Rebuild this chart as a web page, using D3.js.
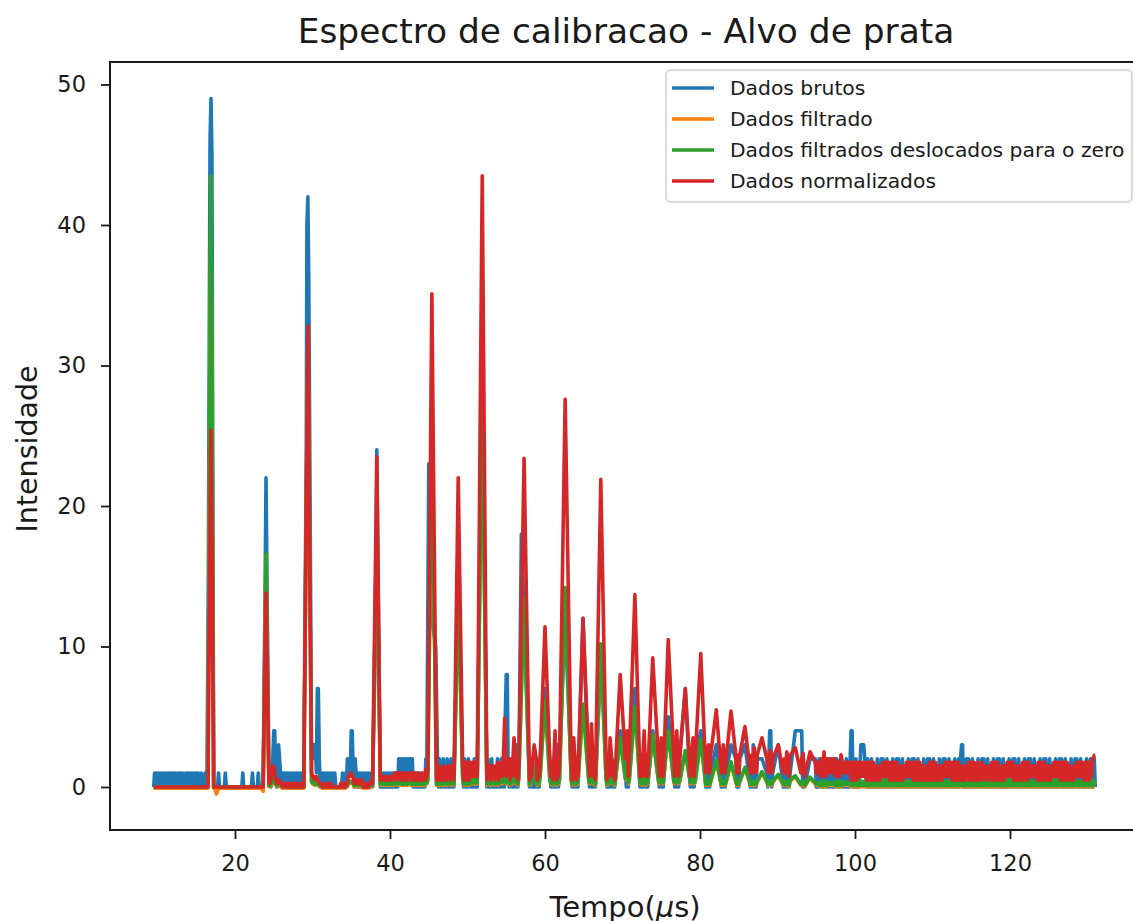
<!DOCTYPE html>
<html>
<head>
<meta charset="utf-8">
<script src="https://cdnjs.cloudflare.com/ajax/libs/d3/7.8.5/d3.min.js"></script>
<style>
  body { margin: 0; background: #fff; }
  svg text { font-family: "DejaVu Sans", sans-serif; fill: #1a1a1a; }
</style>
</head>
<body>
<div id="chart"></div>
<script>
// grade de amostragem do espectro (µs)
var tempoInicio = 9.5,
    passo = 0.125;

// ruido de fundo: um digito por amostra, grupos de 1 µs, linhas de 10 µs (9.5-19.375, 19.5-29.375, ...)
var ruidoBruto = [
  "01010101 01010101 01010101 01011010 01010101 01010110 01000100 00111100 00010000 00100000",
  "00000000 00001000 00000010 00001000 00000001 10124410 13210101 01010101 01010101 01010101",
  "11122333 17720101 01010101 01010000 00010010 21214410 21010101 01010101 01010101 01010101",
  "01010101 01010212 12121212 12120101 01010101 02130101 01030202 01020102 01020102 01020101",
  "02010201 01020102 01020102 02010201 01020102 02058810 02010203 01020102 02010201 01020102",
  "01020102 02010201 03020102 02010201 01020102 02010201 01030102 02010201 01020102 02010201",
  "02010201 01020102 03010201 01020102 02010201 01020102 02030102 01020102 02010201 01020102",
  "01020102 02010201 01020102 03010201 01020102 02010201 01020102 02030102 01020102 01024401",
  "01020102 02010201 01020102 04444401 02010201 01020102 02010201 01020102 02010201 01020102",
  "44010201 01333321 02010201 01020102 02010201 01020102 02010201 01020102 02010201 01020102",
  "02010201 01020102 02010201 01020102 02330102 02010201 01020102 02010201 01020102 02010201",
  "01020102 02010201 01020102 02010201 01020102 02010201 01020102 02010201 01020102 02010201",
  "0102010201020"
];
// filtrado (digito x 0.1)
var ruidoFiltrado = [
  "00000000 00000000 00000000 00000000 00000000 00000000 00000000 00000000 00000000 00000000",
  "00000000 00000000 00000000 00000000 00000001 12366321 21211010 10101010 10101010 10101212",
  "55443322 32211100 01010101 00000000 01010101 13344331 12121212 01010101 12121212 23232323",
  "23232323 24342434 24242424 34242424 24232423 25352535 25262526 25262526 36263626 26272627",
  "27272727 37373737 27372737 26362636 26372637 38483848 27372737 27382738 27372737 27382738",
  "26362636 25352535 26362636 25352535 26362636 25352535 26362636 25352535 26362636 25352535",
  "26362636 25352535 26362636 25352535 25252525 25352535 25252525 24342434 25252525 24342434",
  "15151515 24242424 15151515 24242424 15151515 24242424 14141414 24242424 15151515 24242424",
  "14141414 24242424 15151515 24242424 14141414 23232323 14141414 23232323 14141414 23232323",
  "15151515 14141414 15151515 14141414 15151515 14141414 15151515 14141414 15151515 14141414",
  "14141414 15151515 14141414 15151515 14141414 15151515 14141414 15151515 14141414 15151515",
  "15151515 14141414 15151515 14141414 15151515 14141414 15151515 14141414 15151515 14141414",
  "1514151415145"
];
// normalizado (digito x 0.25)
var ruidoNormalizado = [
  "00000000 00000000 00000000 00000000 00000000 00000000 00000000 00000000 00000000 00000000",
  "00000000 00000000 00000000 00000000 00000001 12466421 21211010 10101010 10101010 10101212",
  "66443322 32211100 01010101 00000000 01010101 13344331 12121212 01010101 12121212 23232323",
  "23232323 24342434 24242424 34242424 24232423 25352535 25262526 25262526 36263626 26272627",
  "27272727 37373737 27372737 26362636 26372637 38483848 27372737 27382738 27372737 27382738",
  "28382838 27372737 28382838 27372737 28382838 27372737 28382838 27372737 28382838 27372737",
  "28382838 39393939 28382838 39393939 28382838 38383838 29392939 38383838 29392939 38383838",
  "39393939 49494949 39393939 48484848 39393939 49494949 38383838 49494949 39393939 48484848",
  "38383838 48484848 39393939 48484848 38383838 47474747 38383838 48484848 37373737 47474747",
  "27272727 37373737 27272727 26262626 37373737 27272727 26262626 37373737 27272727 26262626",
  "27272727 26262626 37373737 27272727 26262626 37272727 26272627 36263626 27272727 26262626",
  "37373737 26262626 27272727 36363636 27272727 26262626 37373737 27272727 26262626 37373737",
  "2727272738899"
];

// picos do espectro
var picoTempo = [16.9, 24.0, 29.4, 38.3, 45.4, 48.8, 51.9, 57.3, 60.0, 62.6, 64.9, 67.2, 69.7,
                 71.6, 73.9, 75.9, 78.1, 80.1, 82.1, 84.0, 85.8, 88.0, 90.1, 92.3, 94.2];
var picoLargura = [0.3, 0.35, 0.4, 0.45, 0.5, 0.5, 0.55, 0.6, 0.6, 0.65, 0.6, 0.65, 0.6,
                   0.65, 0.6, 0.65, 0.6, 0.65, 0.6, 0.6, 0.6, 0.6, 0.6, 0.6, 0.6];
var picoBruto = [49, 22, 42, 24, 12, 14, 29, 12, 7, 12, 12, 9, 4,
                 7, 4, 5, 7, 4, 3, 3, 3, 2, 3, 4, 2];
var picoFiltrado = [43.5, 16.6, 32.0, 19.5, 25.0, 14.5, 28.0, 13.4, 6.2, 14.2, 5.9, 10.2, 3.5,
                    5.7, 3.7, 4.0, 2.6, 3.4, 1.9, 1.8, 1.4, 1.1, 0.9, 0.8, 0.7];
var picoNormalizado = [25.4, 13.8, 32.8, 23.5, 35.1, 22.0, 43.5, 23.4, 11.4, 27.6, 12.0, 21.9, 8.0,
                       13.7, 9.2, 10.5, 7.0, 9.5, 5.5, 5.4, 4.3, 3.5, 3.0, 2.8, 2.5];

// picos secundarios [tempo, intensidade]
var extraBruto = [[16.55, 14], [16.78, 46], [17.02, 45], [23.88, 14], [24.12, 15],
                  [29.2, 24], [29.28, 40], [29.52, 36], [38.18, 12], [38.42, 17],
                  [45.0, 23], [45.9, 10], [56.95, 18]];
var extraFiltrado = [[54.8, 2.8], [56.0, 1.8], [58.6, 1.5], [61.3, 1.9], [63.7, 1.7], [66.0, 2.0],
                     [68.4, 1.5], [70.6, 1.7], [72.8, 1.6], [75.0, 1.4], [77.0, 1.5], [79.1, 1.3]];
var extraNormalizado = [[54.8, 4.9], [56.0, 3.5], [58.6, 3.0], [61.3, 4.0], [63.7, 3.5], [66.0, 4.5],
                        [68.4, 3.5], [70.6, 4.0], [72.8, 4.0], [75.0, 3.5], [77.0, 4.0], [79.1, 3.5],
                        [81.1, 3.0], [83.0, 3.0], [87.0, 2.8], [89.1, 2.6], [91.2, 2.5], [93.3, 2.4],
                        [96.0, 2.5], [98.2, 2.3]];
// vales negativos do filtrado
var valeFiltrado = [[17.6, -0.42], [23.65, -0.22]];
var deslocamento = 0.08;

var legendas = ["Dados brutos", "Dados filtrado", "Dados filtrados deslocados para o zero", "Dados normalizados"];
var cores = ["#1f77b4", "#ff7f0e", "#2ca02c", "#d62728"];
var ticksX = [20, 40, 60, 80, 100, 120];
var ticksY = [0, 10, 20, 30, 40, 50];

// junta ruido de fundo e picos numa lista de pontos
function montaSerie(ruido, escala, picos) {
  var digitos = ruido.join("").replace(/ /g, "");
  var pts = [];
  for (var i = 0; i < digitos.length; i++) {
    var t = tempoInicio + i * passo;
    var dentro = picos.some(function(p) { return Math.abs(t - p[0]) < p[2]; });
    if (!dentro) pts.push([t, +digitos[i] * escala]);
  }
  picos.forEach(function(p) { pts.push([p[0], p[1]]); });
  pts.sort(function(a, b) { return a[0] - b[0]; });
  return pts;
}

function listaPicos(alturas, extras) {
  var lista = picoTempo.map(function(t, i) { return [t, alturas[i], picoLargura[i]]; });
  (extras || []).forEach(function(e) { lista.push([e[0], e[1], 0.15]); });
  return lista;
}

var serieBruto = montaSerie(ruidoBruto, 1, listaPicos(picoBruto, extraBruto));
var serieVerde = montaSerie(ruidoFiltrado, 0.1, listaPicos(picoFiltrado, extraFiltrado));
var serieLaranja = montaSerie(ruidoFiltrado, 0.1, listaPicos(picoFiltrado, extraFiltrado.concat(valeFiltrado)))
  .map(function(p) { return [p[0], p[1] - deslocamento]; });
var serieNorm = montaSerie(ruidoNormalizado, 0.25, listaPicos(picoNormalizado, extraNormalizado));
var series = [serieBruto, serieLaranja, serieVerde, serieNorm];

var largura = 1133, altura = 921,
    mEsq = 110, mDir = 1134, mTopo = 62, mBase = 830;

var svg = d3.select("#chart").append("svg")
            .attr("width", largura)
            .attr("height", altura);

var x = d3.scaleLinear().domain([3.87, 136.0]).range([mEsq, mDir]);
var y = d3.scaleLinear().domain([-3.06, 51.6]).range([mBase, mTopo]);

svg.append("clipPath").attr("id", "area")
   .append("rect").attr("x", mEsq).attr("y", mTopo)
   .attr("width", mDir - mEsq).attr("height", mBase - mTopo);

var linha = d3.line().x(function(d) { return x(d[0]); }).y(function(d) { return y(d[1]); });

svg.append("g").attr("clip-path", "url(#area)")
   .selectAll("path")
   .data(series)
   .enter()
   .append("path")
   .attr("d", linha)
   .attr("fill", "none")
   .attr("stroke", function(d, i) { return cores[i]; })
   .attr("stroke-width", 3.6)
   .attr("stroke-linejoin", "round");

// eixos
var eixoX = svg.append("g").attr("transform", "translate(0," + mBase + ")")
               .call(d3.axisBottom(x).tickValues(ticksX).tickSize(9).tickPadding(16));
var eixoY = svg.append("g").attr("transform", "translate(" + mEsq + ",0)")
               .call(d3.axisLeft(y).tickValues(ticksY).tickSize(9).tickPadding(15));
[eixoX, eixoY].forEach(function(g) {
  g.select(".domain").remove();
  g.selectAll("line").attr("stroke", "#1a1a1a").attr("stroke-width", 1.8);
  g.selectAll("text").attr("font-size", 22.5).attr("font-family", "DejaVu Sans").attr("fill", "#1a1a1a");
});

svg.append("rect")
   .attr("x", mEsq).attr("y", mTopo)
   .attr("width", mDir - mEsq).attr("height", mBase - mTopo)
   .attr("fill", "none").attr("stroke", "#1a1a1a").attr("stroke-width", 2);

// titulo e rotulos
svg.append("text")
   .attr("x", (mEsq + mDir) / 2 + 4).attr("y", 43)
   .attr("text-anchor", "middle").attr("font-size", 34.4)
   .text("Espectro de calibracao - Alvo de prata");

var rotX = svg.append("text")
   .attr("x", (mEsq + mDir) / 2 + 3).attr("y", 917)
   .attr("text-anchor", "middle").attr("font-size", 29);
rotX.append("tspan").text("Tempo(");
rotX.append("tspan").attr("font-style", "italic").text("μ");
rotX.append("tspan").text("s)");

svg.append("text")
   .attr("transform", "translate(37," + ((mTopo + mBase) / 2 + 3) + ") rotate(-90)")
   .attr("text-anchor", "middle").attr("font-size", 28.5)
   .text("Intensidade");

// legenda
var leg = svg.append("g");
leg.append("rect")
   .attr("x", 666).attr("y", 70).attr("width", 466).attr("height", 132)
   .attr("rx", 5).attr("fill", "#fff").attr("fill-opacity", 0.8)
   .attr("stroke", "#d0d0d0").attr("stroke-width", 1.5);
legendas.forEach(function(nome, i) {
  var yy = 88 + i * 31;
  leg.append("line").attr("x1", 672).attr("x2", 714).attr("y1", yy).attr("y2", yy)
     .attr("stroke", cores[i]).attr("stroke-width", 3.6);
  leg.append("text").attr("x", 730).attr("y", yy + 7).attr("font-size", 20.3).text(nome);
});
</script>
</body>
</html>
